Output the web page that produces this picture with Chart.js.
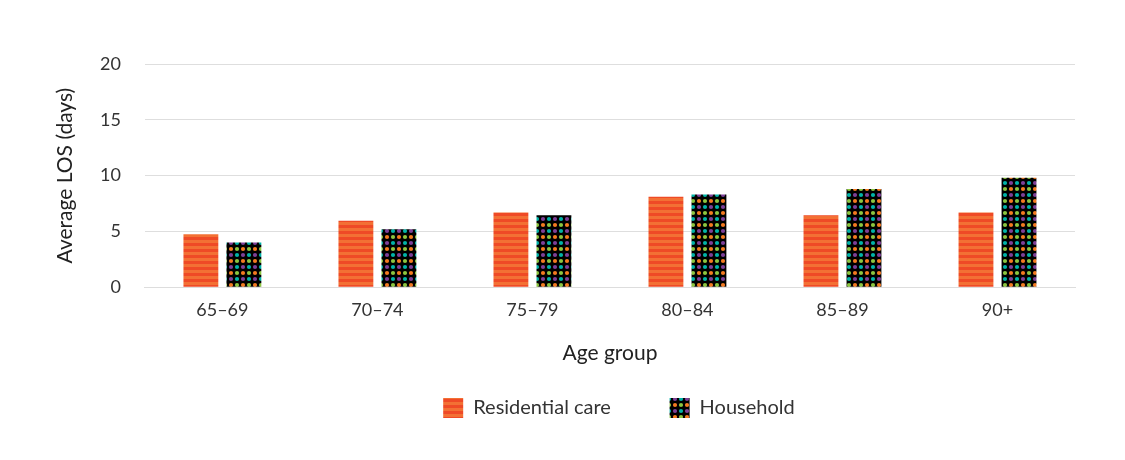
<!DOCTYPE html>
<html>
<head>
<meta charset="utf-8">
<title>Average LOS by age group</title>
<script src="https://cdn.jsdelivr.net/npm/chart.js@4"></script>
<style>
html,body{margin:0;padding:0;background:#fff}
#wrap{width:1125px;height:460px}
</style>
</head>
<body>
<div id="wrap"><canvas id="losChart"></canvas></div>
<script>
/* ====================================
   DATA
==================================== */

const ageGroups=["65\u201369","70\u201374","75\u201379","80\u201384","85\u201389","90+"]

const residentialCare=[4.75,5.95,6.7,8.1,6.45,6.7]

const household=[4.0,5.2,6.45,8.3,8.8,9.8]

const yTicks=[0,5,10,15,20]

const seriesNames=["Residential care","Household"]


/* ====================================
   PATTERN FILLS
==================================== */

// Orange horizontal stripes
function stripePattern(){
const c=document.createElement("canvas")
c.width=6
c.height=6
const g=c.getContext("2d")
g.fillStyle="#f37034"
g.fillRect(0,0,6,6)
g.fillStyle="#ef4a26"
g.fillRect(0,3,6,3)
return g.createPattern(c,"repeat")
}

// Coloured dots on black
function dotPattern(){
const c=document.createElement("canvas")
c.width=12
c.height=12
const g=c.getContext("2d")
g.fillStyle="#000"
g.fillRect(0,0,12,12)
const dots=[[3,3,"#7d3f98"],[9,3,"#00b3a8"],[3,9,"#f47a20"],[9,9,"#8cc63f"]]
dots.forEach(d=>{
g.fillStyle=d[2]
g.beginPath()
g.arc(d[0],d[1],2.1,0,Math.PI*2)
g.fill()
})
return g.createPattern(c,"repeat")
}

const font="Lato, sans-serif"

// extra gap after the first legend entry (legend padding is shared with vertical)
const legendGap="\u00a0\u00a0\u00a0\u00a0\u00a0\u00a0"

// nudge legend a little right, it sits off-centre in the original
const legendShift={
id:"legendShift",
afterLayout(chart){
chart.legend.left+=9
chart.legend.right+=9
}
}


/* ====================================
   DRAW CHART
==================================== */

new Chart(document.getElementById("losChart"),{

type:"bar",

data:{
labels:ageGroups,
datasets:[
{
label:seriesNames[0],
data:residentialCare,
backgroundColor:stripePattern(),
borderWidth:0
},
{
label:seriesNames[1],
data:household,
backgroundColor:dotPattern(),
borderWidth:0
}
]
},

options:{
responsive:true,
maintainAspectRatio:false,
animation:false,
categoryPercentage:0.555,
barPercentage:0.81,
layout:{padding:{left:55,right:50,top:64,bottom:32}},
plugins:{
tooltip:{enabled:false},
legend:{
position:"bottom",
fullSize:false,
labels:{
boxWidth:20,
boxHeight:20,
padding:28,
color:"#333",
font:{family:font,size:20},
generateLabels:chart=>{
const items=Chart.defaults.plugins.legend.labels.generateLabels(chart)
items[0].text=items[0].text+legendGap
return items
}
}
}
},
scales:{
x:{
grid:{display:false},
border:{color:"#ddd"},
ticks:{color:"#333",padding:4,font:{family:font,size:18}},
title:{display:true,text:"Age group",color:"#222",padding:{top:16,bottom:4},font:{family:font,size:21}}
},
y:{
min:0,
max:20,
afterBuildTicks:axis=>{axis.ticks=yTicks.map(v=>({value:v}))},
grid:{color:"#dedede",drawTicks:false},
border:{display:false},
ticks:{color:"#333",padding:24,font:{family:font,size:18}},
title:{display:true,text:"Average LOS (days)",color:"#222",padding:{top:0,bottom:0},font:{family:font,size:21,lineHeight:1}}
}
}
},

plugins:[legendShift]

})
</script>
</body>
</html>
